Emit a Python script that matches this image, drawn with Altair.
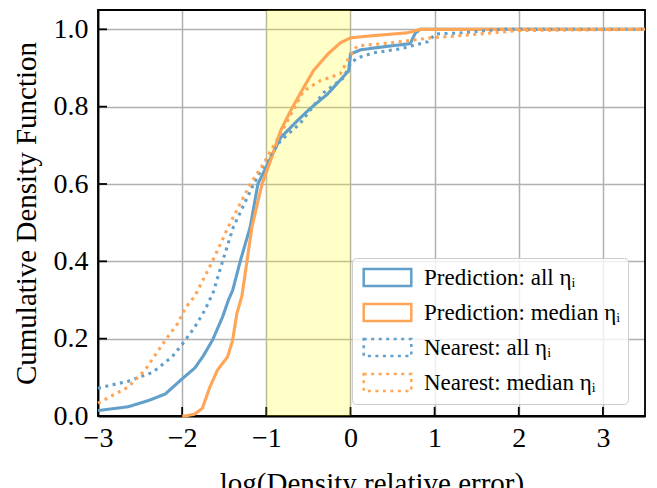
import altair as alt
import pandas as pd

# ---- data ----
series_names = [
    "Prediction: all ηᵢ",
    "Prediction: median ηᵢ",
    "Nearest: all ηᵢ",
    "Nearest: median ηᵢ",
]

pred_all_x = [-3.0, -2.64, -2.4, -2.2, -1.99, -1.85, -1.75, -1.64, -1.52, -1.45, -1.40, -1.31, -1.19,
              -1.10, -0.98, -0.83, -0.63, -0.48, -0.27, -0.15, -0.02, 0.0, 0.12, 0.4, 0.71, 0.77, 0.83, 3.5]
pred_all_y = [0.014, 0.024, 0.04, 0.057, 0.098, 0.124, 0.155, 0.196, 0.256, 0.30, 0.325, 0.40, 0.49,
              0.60, 0.653, 0.72, 0.764, 0.795, 0.833, 0.862, 0.893, 0.936, 0.947, 0.955, 0.963, 0.99, 1.0, 1.0]

pred_med_x = [-2.0, -1.96, -1.85, -1.76, -1.67, -1.58, -1.46, -1.40, -1.35, -1.29, -1.23, -1.17, -1.05,
              -0.95, -0.83, -0.71, -0.6, -0.44, -0.27, -0.12, 0.0, 0.24, 0.68, 0.83, 3.5]
pred_med_y = [0.0, 0.0, 0.005, 0.02, 0.075, 0.119, 0.153, 0.196, 0.265, 0.31, 0.40, 0.49, 0.60,
              0.66, 0.738, 0.79, 0.833, 0.893, 0.936, 0.965, 0.978, 0.983, 0.991, 1.0, 1.0]

near_all_x = [-3.0, -2.64, -2.35, -2.12, -1.99, -1.85, -1.73, -1.63, -1.52, -1.39, -1.15, -1.0, -0.83,
              -0.6, -0.32, -0.08, 0.0, 0.08, 0.27, 0.6, 0.92, 1.01, 1.27, 1.8, 3.5]
near_all_y = [0.072, 0.09, 0.113, 0.153, 0.188, 0.23, 0.274, 0.32, 0.40, 0.49, 0.60, 0.66, 0.712,
              0.756, 0.836, 0.875, 0.911, 0.926, 0.939, 0.95, 0.968, 0.988, 0.99, 1.0, 1.0]

near_med_x = [-3.0, -2.64, -2.44, -2.2, -2.05, -1.96, -1.85, -1.64, -1.45, -1.19, -1.04, -0.83, -0.56,
              -0.36, -0.12, -0.02, 0.08, 0.48, 0.95, 1.27, 2.0, 3.5]
near_med_y = [0.033, 0.075, 0.119, 0.196, 0.24, 0.28, 0.31, 0.40, 0.49, 0.60, 0.65, 0.73, 0.84,
              0.867, 0.885, 0.926, 0.957, 0.965, 0.978, 0.983, 0.997, 1.0]

band_start = [-1.0]
band_end = [0.0]

x_ticks = [-3, -2, -1, 0, 1, 2, 3]
y_ticks = [0.0, 0.2, 0.4, 0.6, 0.8, 1.0]

series_colors = ["#62a0ca", "#ffa556", "#62a0ca", "#ffa556"]
series_dashes = [[1, 0], [1, 0], [3, 4.5], [3, 4.5]]

# ---- tables ----
rows = []
for name, xs, ys in zip(series_names,
                        [pred_all_x, pred_med_x, near_all_x, near_med_x],
                        [pred_all_y, pred_med_y, near_all_y, near_med_y]):
    for x, y in zip(xs, ys):
        rows.append({"series": name, "x": x, "y": y})
df = pd.DataFrame(rows)
band_df = pd.DataFrame({"x0": band_start, "x1": band_end})
xt_df = pd.DataFrame({"xt": x_ticks})
yt_df = pd.DataFrame({"yt": y_ticks})
frame_df = pd.DataFrame({"k": [0]})

W, H = 547, 406
FONT = "Liberation Serif"

xscale = alt.Scale(domain=[-3, 3.5], nice=False, zero=False)
yscale = alt.Scale(domain=[0, 1.05], nice=False, zero=True)

x_axis = alt.Axis(values=x_ticks, format="d", title="log(Density relative error)",
                  grid=True, gridColor="#b0b0b0", gridWidth=1.5,
                  domain=True, domainColor="black", domainWidth=1.8, ticks=False, tickSize=0,
                  labelFont=FONT, labelFontSize=28, labelColor="black", labelPadding=30,
                  labelBaseline="alphabetic", labelFlush=False, labelOverlap=False,
                  titleFont=FONT, titleFontSize=29, titleFontWeight="normal", titleColor="black",
                  titleY=76, titleBaseline="alphabetic")
y_axis = alt.Axis(values=y_ticks, format=".1f", title="Cumulative Density Function",
                  grid=True, gridColor="#b0b0b0", gridWidth=1.5,
                  domain=True, domainColor="black", domainWidth=1.8, ticks=False, tickSize=0,
                  labelFont=FONT, labelFontSize=28, labelColor="black", labelPadding=10,
                  labelFlush=False, labelOverlap=False,
                  titleFont=FONT, titleFontSize=29, titleFontWeight="normal", titleColor="black",
                  titleX=-63, titleY=H / 2, titleBaseline="alphabetic", titleAngle=270)

frame = alt.Chart(frame_df).mark_rect(fillOpacity=0, stroke="#000000", strokeWidth=1.8).encode(
    x=alt.value(0), x2=alt.value(W), y=alt.value(0), y2=alt.value(H),
)
xticks = alt.Chart(xt_df).mark_rule(color="#000000", strokeWidth=1.8).encode(
    x=alt.X("xt:Q", scale=xscale, axis=x_axis),
    y=alt.value(H),
    y2=alt.value(H - 9),
)
yticks = alt.Chart(yt_df).mark_rule(color="#000000", strokeWidth=1.8).encode(
    y=alt.Y("yt:Q", scale=yscale, axis=y_axis),
    x=alt.value(0),
    x2=alt.value(9),
)

band = alt.Chart(band_df).mark_rect(color="#ffff00", opacity=0.22).encode(
    x=alt.X("x0:Q", scale=xscale, axis=x_axis),
    x2="x1:Q",
    y=alt.value(0),
    y2=alt.value(H),
)

legend = alt.Legend(title=None, orient="none", legendX=254, legendY=248,
                    symbolType="M-2.8,-1H2.8V1H-2.8Z", symbolSize=289, symbolStrokeWidth=2.5,
                    symbolFillColor="transparent", symbolOffset=16,
                    labelFont=FONT, labelFontSize=23, labelColor="black", labelOffset=25,
                    labelLimit=400, rowPadding=8, padding=8,
                    strokeColor="#cccccc", fillColor="rgba(255,255,255,0.8)", cornerRadius=4)

lines = alt.Chart(df).mark_line(strokeWidth=3.1).encode(
    x=alt.X("x:Q", scale=xscale, axis=x_axis),
    y=alt.Y("y:Q", scale=yscale, axis=y_axis),
    color=alt.Color("series:N", scale=alt.Scale(domain=series_names, range=series_colors), legend=legend),
    strokeDash=alt.StrokeDash("series:N", scale=alt.Scale(domain=series_names, range=series_dashes),
                              legend=legend),
)

chart = alt.layer(frame, xticks, yticks, band, lines).properties(
    width=W, height=H,
    autosize=alt.AutoSizeParams(type="none"),
    padding={"left": 90, "top": 2, "right": 4, "bottom": 72},
)

chart.save("out.html", embed_options={"renderer": "svg", "actions": False})
